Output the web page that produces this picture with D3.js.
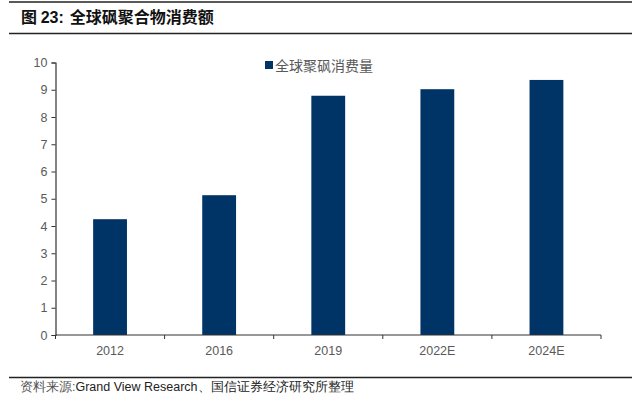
<!DOCTYPE html>
<html>
<head>
<meta charset="utf-8">
<script src="https://cdn.jsdelivr.net/npm/d3@7"></script>
<style>
  html, body { margin: 0; padding: 0; background: #fff; }
  svg { display: block; }
</style>
</head>
<body>
<svg id="chart" width="641" height="413"></svg>
<script>
const categories = ["2012", "2016", "2019", "2022E", "2024E"];
const values = [4.25, 5.13, 8.78, 9.02, 9.36];
const yTicks = [0, 1, 2, 3, 4, 5, 6, 7, 8, 9, 10];
const seriesName = "全球聚砜消费量";
const sourceText = "资料来源:Grand View Research、国信证券经济研究所整理";

const svg = d3.select("#chart");
const plotLeft = 55.5, plotRight = 601, plotTop = 62.5, plotBottom = 335;
const barColor = "#003366";
const cjk = "'Noto Sans CJK SC', 'Noto Sans', sans-serif";
const latin = "'Liberation Sans', Arial, sans-serif";

// Header lines & title
svg.append("line").attr("x1", 9).attr("x2", 632).attr("y1", 2).attr("y2", 2)
  .attr("stroke", "#222").attr("stroke-width", 1.6);
svg.append("line").attr("x1", 9).attr("x2", 632).attr("y1", 33.5).attr("y2", 33.5)
  .attr("stroke", "#222").attr("stroke-width", 1.6);
const t = svg.append("text").attr("x", 21).attr("y", 22.5)
  .attr("font-family", cjk).attr("font-weight", "bold").attr("font-size", 16).attr("fill", "#111");
t.append("tspan").text("图 ");
t.append("tspan").attr("font-family", latin).text("23:");
t.append("tspan").attr("dx", 6).text("全球砜聚合物消费额");

// Scales
const x = d3.scaleBand().domain(categories).range([plotLeft, plotRight]).paddingInner(0.69).paddingOuter(0.345);
const y = d3.scaleLinear().domain([0, 10]).range([plotBottom, plotTop]);

// Bars
svg.append("g").selectAll("rect").data(categories).join("rect")
  .attr("x", d => x(d))
  .attr("width", x.bandwidth())
  .attr("y", (d, i) => y(values[i]))
  .attr("height", (d, i) => y(0) - y(values[i]))
  .attr("fill", barColor);

// Y axis
const yAxis = svg.append("g").attr("transform", `translate(${plotLeft},0)`)
  .call(d3.axisLeft(y).tickValues(yTicks).tickSize(4).tickPadding(4).tickFormat(d3.format("d")));
yAxis.select(".domain").attr("stroke", "#333").attr("stroke-width", 1.2);
yAxis.selectAll(".tick line").attr("stroke", "#333");
yAxis.selectAll(".tick text").attr("font-family", latin).attr("font-size", 12.5).attr("fill", "#595959");

// X axis (ticks at band boundaries)
const xAxisG = svg.append("g").attr("transform", `translate(0,${plotBottom})`);
xAxisG.append("line").attr("x1", plotLeft).attr("x2", plotRight).attr("y1", 0).attr("y2", 0)
  .attr("stroke", "#333").attr("stroke-width", 1.2);
const step = x.step();
const boundaries = categories.map((d, i) => plotLeft + i * step).concat([plotRight]);
xAxisG.selectAll("line.tk").data(boundaries).join("line").attr("class", "tk")
  .attr("x1", d => d).attr("x2", d => d).attr("y1", 0).attr("y2", 4)
  .attr("stroke", "#333");
xAxisG.selectAll("text").data(categories).join("text")
  .attr("x", d => x(d) + x.bandwidth() / 2)
  .attr("y", 20)
  .attr("text-anchor", "middle")
  .attr("font-family", latin).attr("font-size", 12.5).attr("fill", "#595959")
  .text(d => d);

// Legend
svg.append("rect").attr("x", 265).attr("y", 61).attr("width", 8).attr("height", 8).attr("fill", barColor);
svg.append("text").attr("x", 275).attr("y", 70.5)
  .attr("font-family", cjk).attr("font-size", 14).attr("fill", "#595959").text(seriesName);

// Footer
svg.append("line").attr("x1", 9).attr("x2", 632).attr("y1", 377.5).attr("y2", 377.5)
  .attr("stroke", "#222").attr("stroke-width", 1.4);
const s = svg.append("text").attr("x", 20).attr("y", 391)
  .attr("font-family", latin).attr("font-size", 12.5).attr("fill", "#222");
s.append("tspan").attr("fill", "#555").text(sourceText.slice(0, 5));
s.append("tspan").text(sourceText.slice(5));
</script>
</body>
</html>
